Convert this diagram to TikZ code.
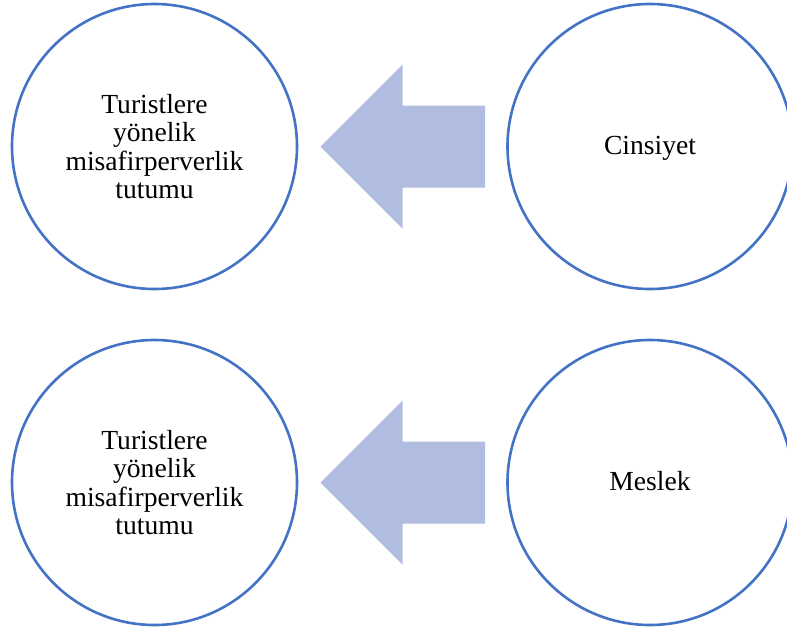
\documentclass[tikz,border=0pt]{standalone}
\usepackage{fontspec}
\setmainfont{Liberation Serif}
\usepackage{tikz}
\usetikzlibrary{positioning}
\definecolor{ringblue}{HTML}{4472C4}
\definecolor{arrowblue}{HTML}{B0BDE0}
\tikzstyle{ring} = [circle, draw=ringblue, line width=2.6pt, minimum size=285pt, inner sep=0pt, align=center, font=\fontsize{27.6}{28.6}\selectfont]
\tikzstyle{blockarrow} = [fill=arrowblue, draw=none]

\begin{document}
\begin{tikzpicture}[x=1pt, y=1pt]
            \useasboundingbox (0,0) rectangle (787,-630);
            % upper row
            \node[ring] (tutum1) at (154.5,-146.5) {Turistlere\\yönelik\\misafirperverlik\\tutumu};
            \node[ring, text height=20pt, text depth=4pt] (cinsiyet) at (650,-146.5) {Cinsiyet};
            \fill[blockarrow] (320.5,-146.5) -- (402.5,-64.5) -- (402.5,-105.5) -- (485,-105.5)
                -- (485,-187.5) -- (402.5,-187.5) -- (402.5,-228.5) -- cycle;

            % lower row
            \node[ring] (tutum2) at (154.5,-482.5) {Turistlere\\yönelik\\misafirperverlik\\tutumu};
            \node[ring, text height=20pt, text depth=4pt] (meslek) at (650,-482.5) {Meslek};
            \fill[blockarrow] (320.5,-482.5) -- (402.5,-400.5) -- (402.5,-441.5) -- (485,-441.5)
                -- (485,-523.5) -- (402.5,-523.5) -- (402.5,-564.5) -- cycle;
        \end{tikzpicture}
\end{document}
